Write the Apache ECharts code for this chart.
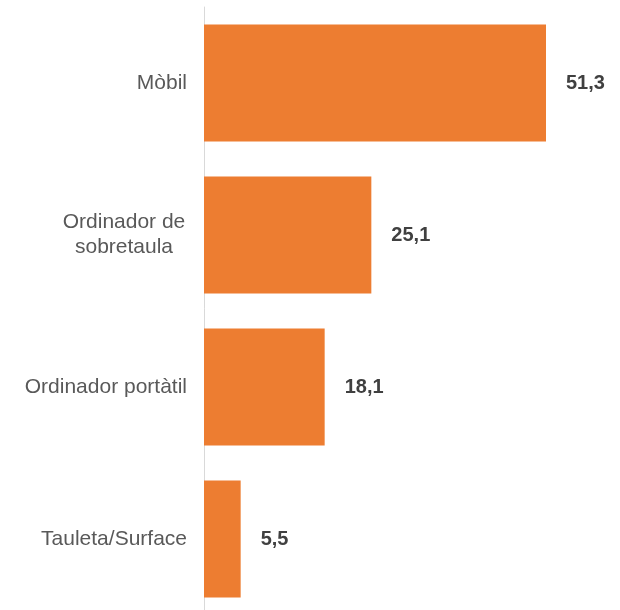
<!DOCTYPE html>
<html>
<head>
<meta charset="utf-8">
<script src="https://cdn.jsdelivr.net/npm/echarts@6/dist/echarts.min.js"></script>
<style>
  html, body { margin: 0; padding: 0; background: #fff; }
  #chart { width: 620px; height: 610px; }
</style>
</head>
<body>
<div id="chart"></div>
<script>
// dades del gràfic
const categories = ['Mòbil', 'Ordinador de\nsobretaula', 'Ordinador portàtil', 'Tauleta/Surface'];
const values = [51.3, 25.1, 18.1, 5.5];

const chart = echarts.init(document.getElementById('chart'));

// l'etiqueta de dues línies va centrada entre línies
const catData = categories.map(c => {
  if (c.indexOf('\n') >= 0) {
    return { value: c, textStyle: { align: 'center', padding: [0, 126, 0, 0] } };
  }
  return c;
});

const option = {
  animation: false,
  grid: { left: 204, right: 16, top: 7, height: 608, outerBoundsMode: 'none' },
  xAxis: {
    type: 'value',
    min: 0,
    max: 60,
    show: false
  },
  yAxis: {
    type: 'category',
    data: catData,
    inverse: true,
    axisLine: { show: true, lineStyle: { color: '#d9d9d9', width: 1 } },
    axisTick: { show: false },
    axisLabel: {
      margin: 17,
      color: '#595959',
      fontFamily: 'Liberation Sans, Arial, sans-serif',
      fontSize: 21,
      lineHeight: 25
    }
  },
  series: [
    {
      type: 'bar',
      data: values,
      barWidth: '77%',
      itemStyle: { color: '#ED7D31' },
      label: {
        show: true,
        position: 'right',
        distance: 20,
        color: '#404040',
        fontWeight: 'bold',
        fontFamily: 'Liberation Sans, Arial, sans-serif',
        fontSize: 20,
        formatter: p => p.value.toFixed(1).replace('.', ',')
      }
    }
  ]
};

chart.setOption(option);
</script>
</body>
</html>
